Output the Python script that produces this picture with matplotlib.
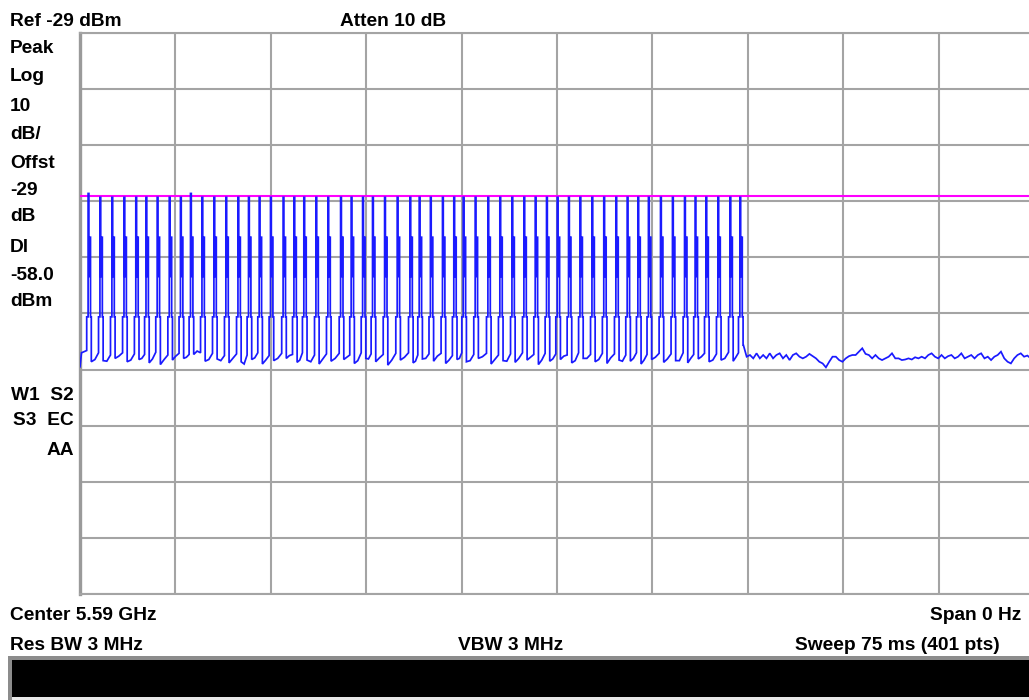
import numpy as np
import matplotlib
matplotlib.use("Agg")
import matplotlib.pyplot as plt
from matplotlib.patches import Rectangle

# ---------------- data ----------------
ref_level_dbm = -29.0
db_per_div = 10.0
display_line_dbm = -58.0
sweep_ms = 75.0

# pulse centre times (ms) and peak levels (dBm)
pulse_t_ms = [0.70, 1.63, 2.57, 3.52, 4.45, 5.25, 6.13, 7.08, 7.96, 8.75,
              9.65, 10.59, 11.53, 12.48, 13.31, 14.15, 15.04, 16.03, 16.88, 17.66,
              18.61, 19.55, 20.55, 21.38, 22.28, 23.06, 24.01, 25.00, 26.00, 26.73,
              27.61, 28.56, 29.45, 30.19, 31.13, 32.13, 33.07, 34.02, 34.96, 35.85,
              36.74, 37.58, 38.47, 39.37, 40.31, 41.24, 42.19, 43.08, 43.92, 44.75,
              45.70, 46.64, 47.59, 48.42, 49.27, 50.21, 51.16, 51.94]
pulse_peak_dbm = [-57.6, -58.3, -58.3, -58.3, -58.3, -58.3, -58.3, -58.3, -58.3, -57.6,
                  -58.3, -58.3, -58.3, -58.3, -58.3, -58.3, -58.3, -58.3, -58.3, -58.3,
                  -58.3, -58.3, -58.3, -58.3, -58.3, -58.3, -58.3, -58.3, -58.3, -58.3,
                  -58.3, -58.3, -58.3, -58.3, -58.3, -58.3, -58.3, -58.3, -58.3, -58.3,
                  -58.3, -58.3, -58.3, -58.3, -58.3, -58.3, -58.3, -58.3, -58.3, -58.3,
                  -58.3, -58.3, -58.3, -58.3, -58.3, -58.3, -58.3, -58.3]
# intermediate step levels seen on each pulse edge (dBm)
pulse_step_dbm = [-79.6, -65.4, -72.4]

# floor between pulses: (just after pulse, middle, just before next pulse)
lead_in_dbm = [-88.5, -86.0, -85.6]
gap_floor_dbm = [
    (-87.6, -87.2, -86.0), (-87.4, -87.5, -86.4), (-87.0, -86.6, -86.0), (-87.6, -87.3, -86.2),
    (-87.2, -87.0, -86.3), (-87.8, -87.1, -85.9), (-88.1, -87.2, -86.4), (-87.3, -86.6, -86.1),
    (-87.0, -86.8, -86.3), (-86.3, -85.7, -86.0), (-87.5, -87.2, -86.1), (-87.1, -87.4, -86.5),
    (-87.8, -87.0, -86.2), (-87.6, -88.0, -86.4), (-87.2, -86.9, -86.0), (-88.0, -87.3, -86.5),
    (-87.4, -87.0, -86.1), (-87.0, -86.5, -86.3), (-87.7, -87.3, -86.0), (-87.3, -87.6, -86.4),
    (-88.0, -87.1, -86.2), (-87.5, -87.0, -86.1), (-87.2, -86.8, -86.4), (-87.9, -87.4, -86.0),
    (-87.0, -87.1, -86.2), (-87.6, -86.9, -86.3), (-88.2, -87.3, -86.1), (-87.3, -86.8, -86.0),
    (-87.8, -87.5, -86.4), (-87.1, -87.0, -86.2), (-87.5, -86.6, -86.1), (-87.9, -87.3, -86.5),
    (-87.2, -87.0, -86.0), (-87.6, -87.4, -86.3), (-87.0, -86.7, -86.1), (-88.0, -87.2, -86.4),
    (-87.4, -87.5, -86.2), (-87.7, -87.0, -86.0), (-87.3, -86.8, -86.3), (-88.1, -87.3, -86.1),
    (-87.5, -87.1, -86.2), (-87.2, -86.6, -86.4), (-87.8, -87.4, -86.0), (-87.0, -87.0, -86.3),
    (-87.6, -87.2, -86.1), (-87.9, -86.9, -86.2), (-87.3, -87.5, -86.4), (-87.5, -87.0, -86.0),
    (-88.0, -87.3, -86.3), (-87.2, -86.8, -86.1), (-87.7, -87.1, -86.2), (-87.4, -87.4, -86.0),
    (-87.8, -87.0, -86.3), (-87.1, -86.7, -86.1), (-87.6, -87.3, -86.2), (-87.3, -87.0, -85.9),
    (-87.5, -86.8, -86.0),
]

# noise after the pulse train (dBm), uniformly sampled to the end of the sweep
tail_start_ms = 52.15
tail_dbm = [-84.6, -86.7, -86.4, -87.0, -86.1, -87.0, -86.4, -87.0, -86.1, -87.0,
            -86.4, -86.1, -87.0, -86.4, -87.3, -86.4, -86.1, -86.7, -87.0, -86.7,
            -86.2, -86.6, -87.0, -87.6, -87.9, -88.6, -87.6, -86.7, -86.7, -87.3,
            -87.6, -87.0, -86.6, -86.4, -86.4, -85.8, -85.2, -86.2, -86.4, -87.0,
            -86.4, -87.0, -87.3, -87.0, -86.7, -86.1, -87.0, -87.0, -87.3, -87.2,
            -87.0, -87.2, -86.8, -87.0, -86.7, -87.0, -86.4, -86.1, -86.7, -87.0,
            -86.4, -87.0, -86.6, -86.4, -87.0, -86.7, -86.1, -87.0, -86.7, -86.4,
            -87.0, -86.4, -86.1, -87.0, -86.7, -87.3, -86.7, -86.4, -85.8, -87.0,
            -87.6, -87.9, -87.0, -86.4, -86.1, -86.7, -86.5, -87.0, -86.6]

left_labels = ["Peak", "Log", "10", "dB/", "Offst", "-29", "dB", "Dl", "-58.0", "dBm"]
status_labels = ["W1  S2", "S3  EC", "AA"]

# ---------------- figure ----------------
W, H = 1029, 700
fig = plt.figure(figsize=(W / 100, H / 100), dpi=100)
fig.patch.set_facecolor("white")

x0, x1, y0, y1 = 80, 1034, 33, 594
ax = fig.add_axes([x0 / W, 1 - y1 / H, (x1 - x0) / W, (y1 - y0) / H])
ax.set_xlim(0, sweep_ms)
ax.set_ylim(ref_level_dbm - 10 * db_per_div, ref_level_dbm)
ax.set_xticks(np.linspace(0, sweep_ms, 11))
ax.set_yticks(np.arange(ref_level_dbm - 10 * db_per_div, ref_level_dbm + 1, db_per_div))
ax.tick_params(length=0, labelbottom=False, labelleft=False)
ax.grid(True, color="#a4a4a4", lw=1.5)
for s in ax.spines.values():
    s.set_color("#a4a4a4")
    s.set_linewidth(1.5)
ax.spines["left"].set_linewidth(2.4)
ax.spines["left"].set_color("#9a9a9a")
ax.set_axisbelow(True)

# build trace path
px = sweep_ms / (x1 - x0)  # ms per screen pixel
L80, L65, L72 = pulse_step_dbm
tt, yy = [0.0, 0.0 + 1.5 * px], [lead_in_dbm[0], lead_in_dbm[1]]
prev_floor = lead_in_dbm[2]
n = len(pulse_t_ms)
offs = [-2.2, -2.2, -0.8, -0.8, 0.0, 0.0, 0.8, 0.8, 1.6, 1.6, 2.4, 2.4]
for i, (tc, pk) in enumerate(zip(pulse_t_ms, pulse_peak_dbm)):
    nxt = gap_floor_dbm[i] if i < len(gap_floor_dbm) else (tail_dbm[0], tail_dbm[0], tail_dbm[0])
    levs = [prev_floor, L80, L80, pk, pk, L72, L72, L65, L65, L80, L80, nxt[0]]
    tt += [tc + o * px for o in offs]
    yy += levs
    if i < n - 1:
        t_next = pulse_t_ms[i + 1]
        tt += [0.5 * (tc + 2.4 * px + t_next - 2.2 * px)]
        yy += [nxt[1]]
        prev_floor = nxt[2]
tail_t = np.linspace(tail_start_ms, sweep_ms, len(tail_dbm))
tt += list(tail_t)
yy += list(tail_dbm)

ax.axhline(display_line_dbm, color="#ff00ff", lw=1.5, zorder=3)
ax.plot(tt, yy, color="#1a1aff", lw=1.25, zorder=4, solid_joinstyle="miter")

# ---------------- annotations ----------------
fam = ["Liberation Sans", "DejaVu Sans"]
fs = 13.8


def put(x, y, s, ha="left"):
    fig.text(x / W, 1 - y / H, s, ha=ha, va="baseline", fontsize=fs,
             fontweight="bold", family=fam, color="black")


put(10, 26, "Ref -29 dBm")
put(340, 26, "Atten 10 dB")
for lab, yb in zip(left_labels, [53, 81, 111, 139, 168, 195, 221, 252, 280, 306]):
    put(10, yb, lab)
put(74, 400, status_labels[0], ha="right")
put(74, 425, status_labels[1], ha="right")
put(74, 455, status_labels[2], ha="right")

put(10, 620, "Center 5.59 GHz")
put(1021, 620, "Span 0 Hz", ha="right")
put(10, 650, "Res BW 3 MHz")
put(458, 650, "VBW 3 MHz")
put(1000, 650, "Sweep 75 ms (401 pts)", ha="right")

# black status bar at the bottom
bar_ax = fig.add_axes([0, 0, 1, 1], facecolor="none")
bar_ax.set_xlim(0, W)
bar_ax.set_ylim(H, 0)
bar_ax.axis("off")
bar_ax.add_patch(Rectangle((8, 656), W - 8, 44, facecolor="#8c8c8c", edgecolor="none"))
bar_ax.add_patch(Rectangle((12, 660), W - 12, 37, facecolor="black", edgecolor="none"))
bar_ax.add_patch(Rectangle((12, 697), W - 12, 3, facecolor="#e8e8e8", edgecolor="none"))

fig.savefig("out.png", dpi=100, facecolor="white")
